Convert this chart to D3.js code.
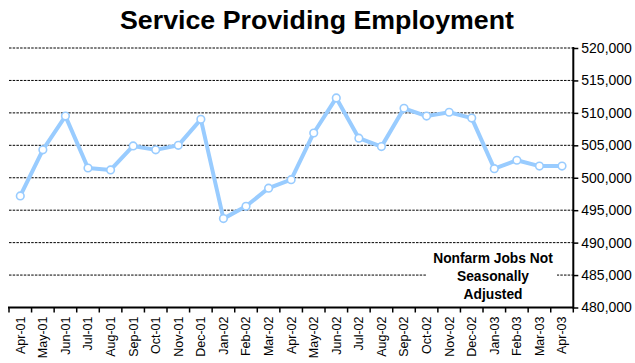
<!DOCTYPE html>
<html>
<head>
<meta charset="utf-8">
<script src="https://cdn.jsdelivr.net/npm/d3@7"></script>
<style>
  html, body { margin: 0; padding: 0; background: #fff; }
  svg { display: block; font-family: Arial, "Liberation Sans", sans-serif; }
</style>
</head>
<body>
<svg id="chart" width="635" height="363"></svg>
<script>
// Monthly service-providing nonfarm jobs, not seasonally adjusted
const months = ["Apr-01","May-01","Jun-01","Jul-01","Aug-01","Sep-01","Oct-01","Nov-01","Dec-01",
  "Jan-02","Feb-02","Mar-02","Apr-02","May-02","Jun-02","Jul-02","Aug-02","Sep-02","Oct-02",
  "Nov-02","Dec-02","Jan-03","Feb-03","Mar-03","Apr-03"];
const jobs = [497200, 504300, 509500, 501500, 501200, 504900, 504300, 505000, 509000,
  493700, 495600, 498400, 499700, 506900, 512300, 506100, 504800, 510700, 509500,
  510100, 509200, 501400, 502700, 501800, 501800];
const yTicks = [480000, 485000, 490000, 495000, 500000, 505000, 510000, 515000, 520000];
const noteLines = ["Nonfarm Jobs Not", "Seasonally", "Adjusted"];
const title = "Service Providing Employment";

const svg = d3.select("#chart");
const plotLeft = 9, plotRight = 573.3, plotTop = 48, plotBottom = 307.5;

const x = d3.scaleBand().domain(months).range([plotLeft, plotRight]).padding(0);
const y = d3.scaleLinear().domain([480000, 520000]).range([plotBottom, plotTop]);
const cx = m => x(m) + x.bandwidth() / 2;

// Title
svg.append("text")
  .attr("x", 120).attr("y", 29)
  .attr("text-anchor", "start")
  .attr("font-size", 25).attr("font-weight", "bold")
  .attr("textLength", 394).attr("lengthAdjust", "spacingAndGlyphs")
  .text(title);

// Dashed horizontal gridlines
svg.append("g").selectAll("line")
  .data(yTicks.filter(t => t !== 480000))
  .join("line")
  .attr("x1", plotLeft).attr("x2", plotRight)
  .attr("y1", d => y(d)).attr("y2", d => y(d))
  .attr("stroke", "#000").attr("stroke-width", 1)
  .attr("stroke-dasharray", "2.5,1.2");

// Right value axis
const yAxis = svg.append("g")
  .attr("transform", `translate(${plotRight},0)`)
  .call(d3.axisRight(y).tickValues(yTicks).tickSize(5).tickPadding(3)
    .tickFormat(d3.format(",")));
yAxis.select(".domain").attr("stroke", "#000").attr("stroke-width", 2)
  .attr("d", `M0,${plotTop - 1}V${plotBottom + 1}`);
yAxis.selectAll(".tick line").attr("stroke", "#000").attr("stroke-width", 1.5);
yAxis.selectAll(".tick text").attr("font-size", 14).attr("fill", "#000")
  .attr("font-family", "Arial, 'Liberation Sans', sans-serif");

// Bottom category axis: ticks between categories
const edges = months.map(m => x(m)).concat([plotRight]);
svg.append("line")
  .attr("x1", plotLeft - 1).attr("x2", plotRight)
  .attr("y1", plotBottom).attr("y2", plotBottom)
  .attr("stroke", "#000").attr("stroke-width", 2);
svg.append("g").selectAll("line")
  .data(edges)
  .join("line")
  .attr("x1", d => d).attr("x2", d => d)
  .attr("y1", plotBottom).attr("y2", plotBottom + 5)
  .attr("stroke", "#000").attr("stroke-width", 1.5);

svg.append("g").selectAll("text")
  .data(months)
  .join("text")
  .attr("transform", d => `translate(${cx(d)},${plotBottom + 9}) rotate(-90)`)
  .attr("text-anchor", "end")
  .attr("dy", "0.35em")
  .attr("font-size", 12.5)
  .attr("fill", "#000")
  .text(d => d);

// Note box
const note = svg.append("g");
note.append("rect")
  .attr("x", 427).attr("y", 247).attr("width", 130).attr("height", 56)
  .attr("fill", "#fff");
note.selectAll("text")
  .data(noteLines)
  .join("text")
  .attr("x", 493)
  .attr("y", (d, i) => 262.5 + i * 18)
  .attr("text-anchor", "middle")
  .attr("font-size", 13.8).attr("font-weight", "bold")
  .attr("fill", "#000")
  .text(d => d);

// Series line and markers
const line = d3.line().x((d, i) => cx(months[i])).y(d => y(d));
svg.append("path")
  .datum(jobs)
  .attr("d", line)
  .attr("fill", "none")
  .attr("stroke", "#99CCFF")
  .attr("stroke-width", 4)
  .attr("stroke-linejoin", "round");

svg.append("g").selectAll("circle")
  .data(jobs)
  .join("circle")
  .attr("cx", (d, i) => cx(months[i]))
  .attr("cy", d => y(d))
  .attr("r", 3.8)
  .attr("fill", "#fff")
  .attr("stroke", "#99CCFF")
  .attr("stroke-width", 1.6);
</script>
</body>
</html>
